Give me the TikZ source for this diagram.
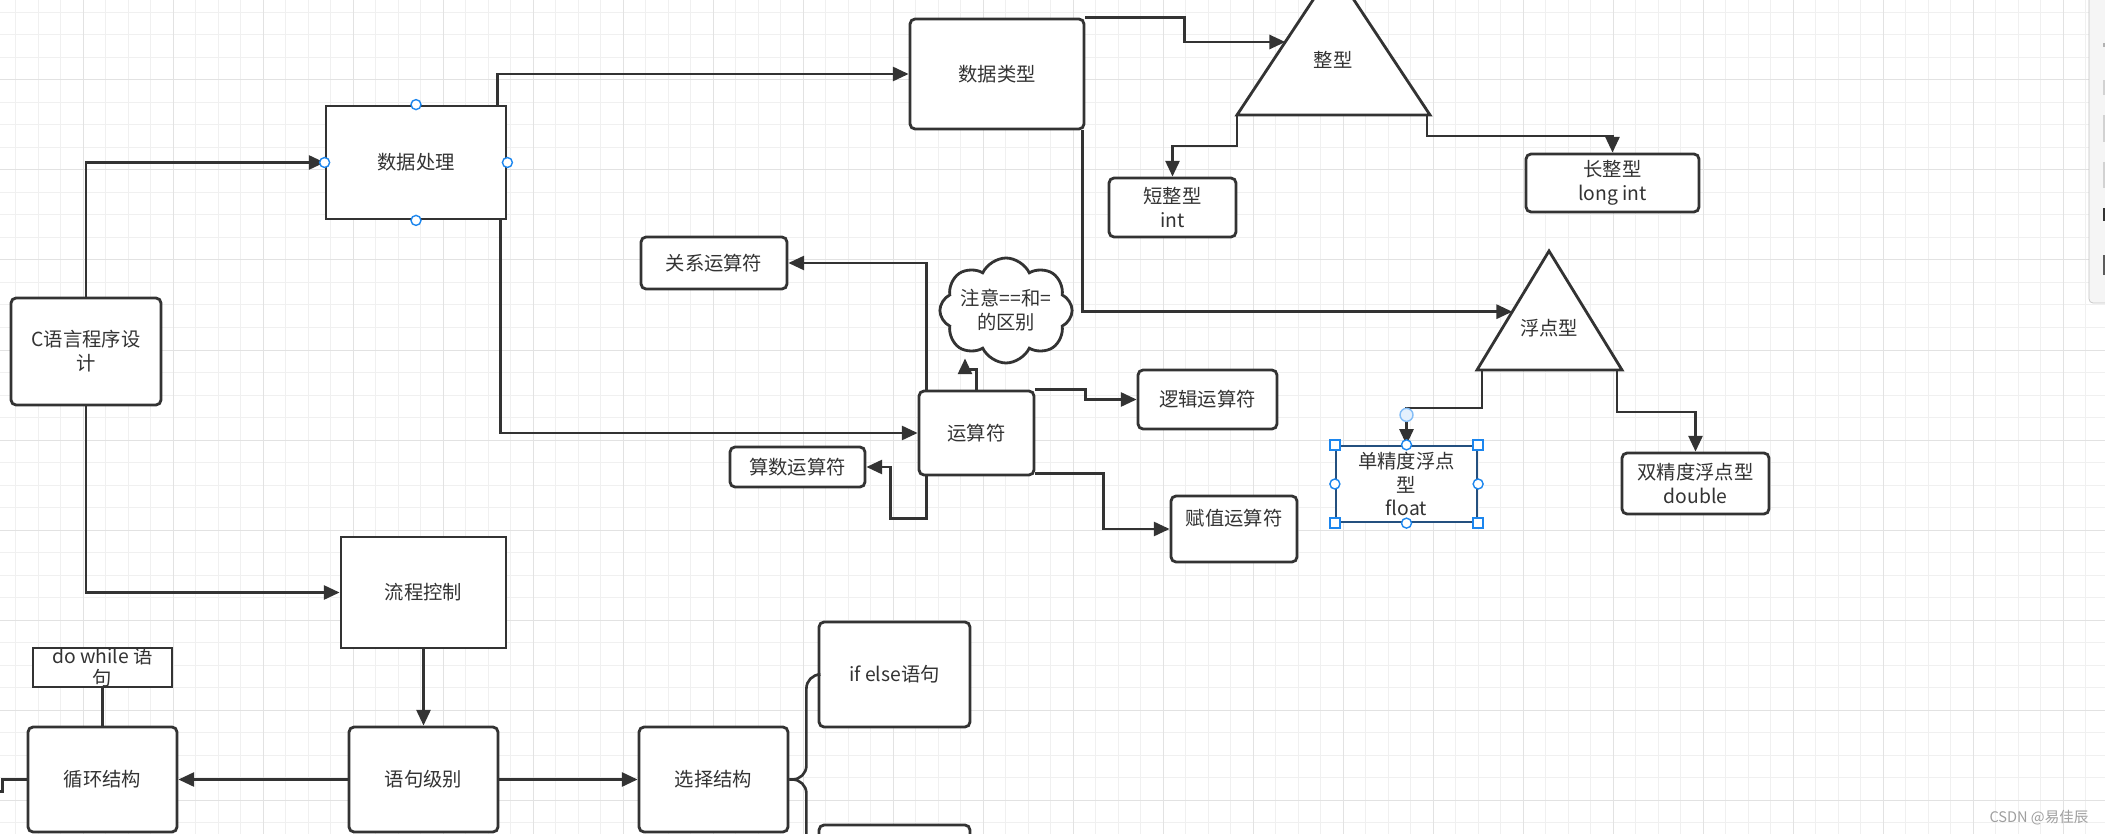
\documentclass[tikz,border=0pt]{standalone}
\usepackage{fontspec}
\newfontfamily\cjk{Noto Sans CJK SC}
\usetikzlibrary{arrows.meta, calc, shapes.symbols}

\definecolor{ink}{HTML}{333333}
\definecolor{gridlight}{HTML}{F0F0F0}
\definecolor{griddark}{HTML}{E2E2E2}
\definecolor{handle}{HTML}{1C86EE}
\definecolor{selframe}{HTML}{24507F}
\definecolor{panelfill}{HTML}{F5F5F5}
\definecolor{panelline}{HTML}{C2C2C2}

\tikzset{
  box/.style = {draw = ink, fill = white, line width = 1.6pt, rounded corners = 0.1cm,
    inner sep = 0pt, align = center, font = \cjk\fontsize{11}{13.6}\selectfont, text = ink},
  sqbox/.style = {box, sharp corners},
  tritext/.style = {inner sep = 0pt, font = \cjk\fontsize{11}{13.6}\selectfont, text = ink},
  conn/.style = {draw = ink, line width = 1.5pt},
  arr/.style = {conn, -{Triangle[length = 9pt, width = 8pt]}},
  knob/.style = {circle, draw = handle, fill = white, line width = 0.8pt, inner sep = 0pt, minimum size = 0.2cm},
  corner/.style = {draw = handle, fill = white, line width = 0.8pt, inner sep = 0pt, minimum size = 0.2cm},
  gridminor/.style = {draw = gridlight, line width = 0.02cm},
  gridmajor/.style = {draw = griddark, line width = 0.02cm}
}

\begin{document}
\begin{tikzpicture}[x = 0.02cm, y = -0.02cm]
  \useasboundingbox (0, 0) rectangle (2105, 834);
  \clip (0, 0) rectangle (2105, 834);
  \fill[white] (0, 0) rectangle (2105, 834);

  \foreach \gx in {0,...,93} \draw[gridminor] (15.5 + 22.5*\gx, 0) -- ++(0, 834);
  \foreach \gy in {0,...,37} \draw[gridminor] (0, 12.5 + 22.5*\gy) -- ++(2105, 0);
  \foreach \gx in {0,...,23} \draw[gridmajor] (83 + 90*\gx, 0) -- ++(0, 834);
  \foreach \gy in {0,...,9} \draw[gridmajor] (0, 80 + 90*\gy) -- ++(2105, 0);

  \draw[draw = panelline, fill = panelfill, rounded corners = 0.08cm] (2089, -10) rectangle (2130, 303);
  \foreach \ya/\yb/\mc in {43/47/gray!60, 80/95/gray!35, 115/142/gray!35, 162/188/gray!35, 208/221/ink, 255/275/ink!80}
    \fill[\mc] (2103, \ya) rectangle (2108, \yb);

  \node[box, minimum width = 3cm, minimum height = 2.14cm] (cprog) at (86, 351.5) {C语言程序设\\计};
  \node[sqbox, minimum width = 3.6cm, minimum height = 2.26cm] (dproc) at (416, 162.5) {数据处理};
  \node[box, minimum width = 3.48cm, minimum height = 2.2cm] (dtype) at (997, 74) {数据类型};
  \node[box, minimum width = 2.54cm, minimum height = 1.18cm] (sint) at (1172.5, 207.5) {短整型\\int};
  \node[box, minimum width = 3.46cm, minimum height = 1.16cm] (lint) at (1612.5, 183) {长整型\\long int};
  \node[sqbox, draw = selframe, line width = 1.3pt, minimum width = 2.82cm, minimum height = 1.52cm] (flt) at (1406.5, 484) {单精度浮点\\型\\float};
  \node[box, minimum width = 2.94cm, minimum height = 1.22cm] (dbl) at (1695.5, 483.5) {双精度浮点型\\double};
  \node[box, minimum width = 2.3cm, minimum height = 1.68cm] (oper) at (976.5, 433) {运算符};
  \node[box, minimum width = 2.92cm, minimum height = 1.04cm] (rel) at (714, 263) {关系运算符};
  \node[box, sharp corners, cloud, cloud puffs = 8, cloud puff arc = 130, cloud ignores aspect,
    minimum width = 2.64cm, minimum height = 2.1cm] (cloud) at (1006, 310.5) {注意==和=\\的区别};
  \node[box, minimum width = 2.78cm, minimum height = 1.18cm] (logic) at (1207.5, 399.5) {逻辑运算符};
  \node[box, minimum width = 2.7cm, minimum height = 0.8cm] (arith) at (797.5, 467) {算数运算符};
  \node[box, minimum width = 2.52cm, minimum height = 1.32cm] (assign) at (1234, 529) {\raisebox{2pt}[0pt][0pt]{赋值运算符}};
  \node[sqbox, minimum width = 3.3cm, minimum height = 2.22cm] (flow) at (423.5, 592.5) {流程控制};
  \node[box, minimum width = 2.98cm, minimum height = 2.1cm] (stmt) at (423.5, 779.5) {语句级别};
  \node[box, minimum width = 2.98cm, minimum height = 2.1cm] (loop) at (102.5, 779.5) {循环结构};
  \node[box, minimum width = 2.98cm, minimum height = 2.1cm] (sel) at (713.5, 779.5) {选择结构};
  \node[sqbox, minimum width = 2.78cm, minimum height = 0.78cm] (dowhile) at (102.5, 667.5)
    {\raisebox{-4pt}[0pt][0pt]{\fontsize{11}{12}\selectfont\begin{tabular}{@{}c@{}}do while 语\\句\end{tabular}}};
  \node[box, minimum width = 3.02cm, minimum height = 2.1cm] (ifelse) at (894.5, 674.5) {if else语句};
  \node[box, minimum width = 3.02cm, minimum height = 2.1cm] (nextbox) at (894.5, 877.5) {};

  \coordinate (ztop) at (1333.5, -31);
  \coordinate (zl) at (1237, 115);
  \coordinate (zr) at (1430, 115);
  \draw[conn, line width = 1.6pt, fill = white] (zl) -- (ztop) -- (zr) -- cycle;
  \node[tritext] (ztxt) at (1333, 60) {整型};
  \coordinate (ftop) at (1549, 251);
  \coordinate (fl) at (1477, 370);
  \coordinate (fr) at (1622, 370);
  \draw[conn, line width = 1.6pt, fill = white] (fl) -- (ftop) -- (fr) -- cycle;
  \node[tritext] (ftxt) at (1549, 328) {浮点型};
  \coordinate (zside) at ($(zl)!0.5!(ztop)$);
  \coordinate (fside) at ($(fl)!0.49!(ftop)$);
  \coordinate (ctip) at ($(cloud.south) + (-41, -6)$);

  \draw[arr] (cprog.north) |- (dproc.west);
  \draw[arr] (cprog.south) |- (flow.west);
  \draw[arr] ([xshift = -0.2cm]dproc.north east) |- (dtype.west);
  \draw[arr] ([xshift = -0.14cm]dproc.south east) |- (oper.west);
  \draw[arr] (dtype.north east) -- ++(99, 0) |- (zside);
  \draw[arr] (zl) -- ++(0, 31) -| (sint.north);
  \draw[arr] ([xshift = -0.06cm]zr) -- ++(0, 21) -| (lint.north);
  \draw[arr] ([xshift = -0.06cm]dtype.south east) |- (fside);
  \draw[arr] ([xshift = 0.1cm]fl) -- ++(0, 38) -| (flt.north);
  \draw[arr] ([xshift = -0.1cm]fr) -- ++(0, 42) -| (dbl.north);
  \draw[arr] ([xshift = 0.18cm]oper.north west) |- (rel.east);
  \draw[arr] (oper.north) -- ++(0, -20) -| (ctip);
  \draw[arr] (oper.north east) -- ++(50, 0) |- (logic.west);
  \draw[arr] ([xshift = 0.18cm]oper.south west) -- ++(0, 42) -- ++(-36, 0) |- (arith.east);
  \draw[arr] ([yshift = 0.06cm]oper.south east) -- ++(68, 0) |- (assign.west);
  \draw[arr] (flow.south) -- (stmt.north);
  \draw[arr] (stmt.west) -- (loop.east);
  \draw[arr] (stmt.east) -- (sel.west);
  \draw[conn] (dowhile.south) -- (loop.north);
  \draw[conn] (loop.west) -- ++(-24, 0) -- ++(0, 12) -- ++(-10, 0);
  \draw[conn, rounded corners = 0.28cm] (sel.east) -- ++(17, 0) |- (ifelse.west);
  \draw[conn, rounded corners = 0.28cm] (sel.east) -- ++(17, 0) |- (nextbox.west);

  \foreach \a in {north, south, east, west} \node[knob] (dp-\a) at (dproc.\a) {};
  \foreach \a in {north, south, east, west} \node[knob] (fk-\a) at (flt.\a) {};
  \foreach \a in {north east, north west, south east, south west} \node[corner] (fc-\a) at (flt.\a) {};
  \node[circle, draw = handle!55, fill = handle!12, line width = 0.8pt, inner sep = 0pt, minimum size = 0.26cm] (grip) at ($(flt.north) + (0, -30)$) {};

  \node[font = \cjk\fontsize{8.3}{10}\selectfont, text = gray!75, inner sep = 0pt] (mark) at (2039, 818) {CSDN @易佳辰};
\end{tikzpicture}
\end{document}
